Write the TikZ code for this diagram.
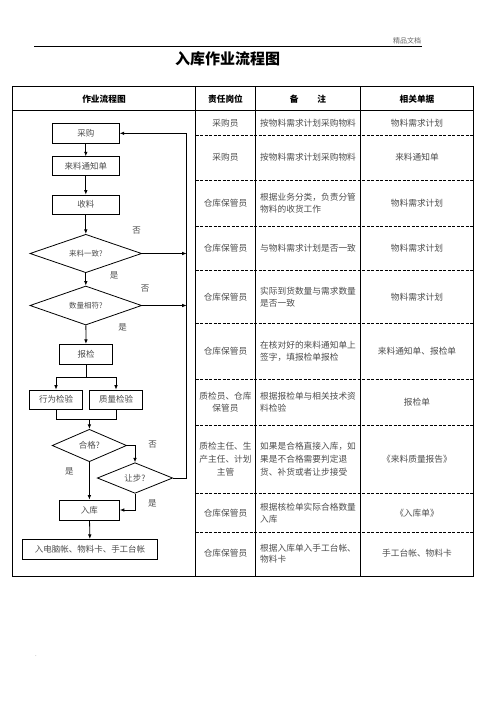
\documentclass[tikz,border=0pt]{standalone}
\usepackage{fontspec}
\setmainfont{Noto Sans CJK SC}
\usetikzlibrary{shapes.geometric,arrows.meta}
\definecolor{txt}{gray}{0.3}
\newcommand\fsz[2]{\fontsize{#1}{#2}\selectfont}
\begin{document}
\begin{tikzpicture}[x=1pt,y=-1pt,
  fbox/.style={draw, line width=0.8pt, inner sep=0pt, text=txt, font=\fsz{8.5}{10}},
  dia/.style={diamond, draw, line width=0.8pt, inner sep=0pt, text=txt, font=\fsz{7.5}{9}},
  arr/.style={-{Latex[length=4.5pt,width=3.6pt]}, line width=0.8pt},
  ln/.style={line width=0.8pt},
  lbl/.style={text=txt, font=\fsz{8.5}{10}, inner sep=0pt},
  cell/.style={text=txt, font=\fsz{8.7}{11.7}, inner sep=0pt, align=center},
  note/.style={text=txt, font=\fsz{8.7}{11.7}, inner sep=0pt, align=left, anchor=west},
  hdr/.style={font=\bfseries\fsz{8.7}{10}, inner sep=0pt},
  tline/.style={line width=0.9pt},
  dline/.style={line width=0.7pt, dash pattern=on 3pt off 1.5pt}]
\useasboundingbox (0,0) rectangle (496,702);
% page header
\node[text=black!60, font=\fsz{7}{8}, inner sep=0pt] (pagehdr) at (407,40.7) {精品文档};
\draw[line width=0.6pt] (34,46) -- (422,46);
\node[font=\bfseries\fsz{15}{17}, inner sep=0pt] (title) at (227.5,59) {入库作业流程图};
% table
\draw[tline] (12.7,86.7) rectangle (473.3,576);
\draw[tline] (12.7,110.7) -- (473.3,110.7);
\foreach \x in {195.5,255.5,360.5} \draw[tline] (\x,86.7) -- (\x,576);
\foreach \y in {135,180,226,270.7,323.3,379.3,425,493.3,532.3}
  \draw[dline] (195.5,\y) -- (473.3,\y);
\node[hdr] (h1) at (104,99) {作业流程图};
\node[hdr] (h2) at (225.5,99) {责任岗位};
\node[hdr] (h3) at (308,99) {备\hspace{19pt}注};
\node[hdr] (h4) at (417,99) {相关单据};
% rows
\node[cell] (r1a) at (225.5,122.9) {采购员};
\node[note] (r1b) at (260,122.9) {按物料需求计划采购物料};
\node[cell] (r1c) at (417,122.9) {物料需求计划};
\node[cell] (r2a) at (225.5,157.5) {采购员};
\node[note] (r2b) at (260,157.5) {按物料需求计划采购物料};
\node[cell] (r2c) at (417,157.5) {来料通知单};
\node[cell] (r3a) at (225.5,203) {仓库保管员};
\node[note] (r3b) at (260,203) {根据业务分类，负责分管\\物料的收货工作};
\node[cell] (r3c) at (417,203) {物料需求计划};
\node[cell] (r4a) at (225.5,248) {仓库保管员};
\node[note] (r4b) at (260,248) {与物料需求计划是否一致};
\node[cell] (r4c) at (417,248) {物料需求计划};
\node[cell] (r5a) at (225.5,297) {仓库保管员};
\node[note] (r5b) at (260,297) {实际到货数量与需求数量\\是否一致};
\node[cell] (r5c) at (417,297) {物料需求计划};
\node[cell] (r6a) at (225.5,351) {仓库保管员};
\node[note] (r6b) at (260,351) {在核对好的来料通知单上\\签字，填报检单报检};
\node[cell] (r6c) at (417,351) {来料通知单、报检单};
\node[cell] (r7a) at (225.5,402) {质检员、仓库\\保管员};
\node[note] (r7b) at (260,402) {根据报检单与相关技术资\\料检验};
\node[cell] (r7c) at (417,402) {报检单};
\node[cell, font=\fsz{8.7}{13}] (r8a) at (225.5,459) {质检主任、生\\产主任、计划\\主管};
\node[note, font=\fsz{8.7}{13}] (r8b) at (260,459) {如果是合格直接入库，如\\果是不合格需要判定退\\货、补货或者让步接受};
\node[cell] (r8c) at (417,459) {《来料质量报告》};
\node[cell] (r9a) at (225.5,513) {仓库保管员};
\node[note] (r9b) at (260,513) {根据核检单实际合格数量\\入库};
\node[cell] (r9c) at (417,513) {《入库单》};
\node[cell] (r10a) at (225.5,553.6) {仓库保管员};
\node[note] (r10b) at (260,553.6) {根据入库单入手工台帐、\\物料卡};
\node[cell] (r10c) at (417,553.6) {手工台帐、物料卡};
% flowchart nodes
\node[fbox, minimum width=67pt, minimum height=20pt] (caigou) at (85.8,133.3) {采购};
\node[fbox, minimum width=67pt, minimum height=19pt] (tongzhi) at (85.8,166.2) {来料通知单};
\node[fbox, minimum width=67pt, minimum height=19.3pt] (shouliao) at (85.8,204.7) {收料};
\node[dia, shape aspect=2.9, minimum width=111.7pt, minimum height=38.4pt] (d1) at (85.8,253.5) {来料一致?};
\node[dia, shape aspect=2.9, minimum width=111.7pt, minimum height=39pt] (d2) at (85.8,305.5) {数量相符?};
\node[fbox, minimum width=53.4pt, minimum height=20pt] (baojian) at (86,354.3) {报检};
\node[fbox, minimum width=53.4pt, minimum height=19.3pt] (xingwei) at (56,399.7) {行为检验};
\node[fbox, minimum width=53.4pt, minimum height=19.3pt] (zhiliang) at (116,399.7) {质量检验};
\node[dia, font=\fsz{8.5}{10}, shape aspect=2.3, minimum width=74.4pt, minimum height=32.4pt] (d3) at (89.4,445.5) {合格?};
\node[dia, font=\fsz{8.5}{10}, shape aspect=2.5, minimum width=75.4pt, minimum height=30.6pt] (d4) at (135,478) {让步?};
\node[fbox, minimum width=60pt, minimum height=20pt] (ruku) at (89.4,510) {入库};
\node[fbox, minimum width=134.6pt, minimum height=19.7pt] (final) at (90,549.2) {入电脑帐、物料卡、手工台帐};
% labels
\node[lbl] (l1) at (136.7,230.7) {否};
\node[lbl] (l2) at (114,275.7) {是};
\node[lbl] (l3) at (145,289) {否};
\node[lbl] (l4) at (122.7,327.7) {是};
\node[lbl] (l5) at (152.7,444.3) {否};
\node[lbl] (l6) at (69.3,471) {是};
\node[lbl] (l7) at (152.3,503.3) {是};
% coordinates
\coordinate (rx1) at (186.7,253.5);
\coordinate (rx2) at (186.7,305.5);
\coordinate (rtop) at (186.7,133.3);
\coordinate (rbot) at (186.7,478);
\coordinate (split) at (86,377.3);
\coordinate (mergeL) at (56,419.3);
\coordinate (mergeR) at (116,419.3);
\coordinate (merge) at (89.4,419.3);
% connectors
\draw[arr] (caigou) -- (tongzhi);
\draw[arr] (tongzhi) -- (shouliao);
\draw[arr] (shouliao) -- (d1);
\draw[arr] (d1) -- (d2);
\draw[arr] (d1.east) -- (rx1);
\draw[arr] (d2.east) -- (rx2);
\draw[arr] (d2) -- (baojian);
\draw[ln] (baojian.south) -- (split);
\draw[arr] (split) -| (xingwei.north);
\draw[arr] (split) -| (zhiliang.north);
\draw[ln] (xingwei.south) -- (mergeL) -- (mergeR) -- (zhiliang.south);
\draw[arr] (merge) -- (d3.north);
\draw[arr] (d3.south) -- (ruku.north);
\draw[arr] (d3.east) -| (d4.north);
\draw[arr] (d4.south) |- (ruku.east);
\draw[arr] (d4.east) -- (rbot) -- (rtop) -- (caigou.east);
\draw[arr] (ruku) -- (final);
% stray dot
\node[text=black!50, font=\fsz{6}{6}, inner sep=0pt] (dot) at (36,656) {.};
\end{tikzpicture}
\end{document}
